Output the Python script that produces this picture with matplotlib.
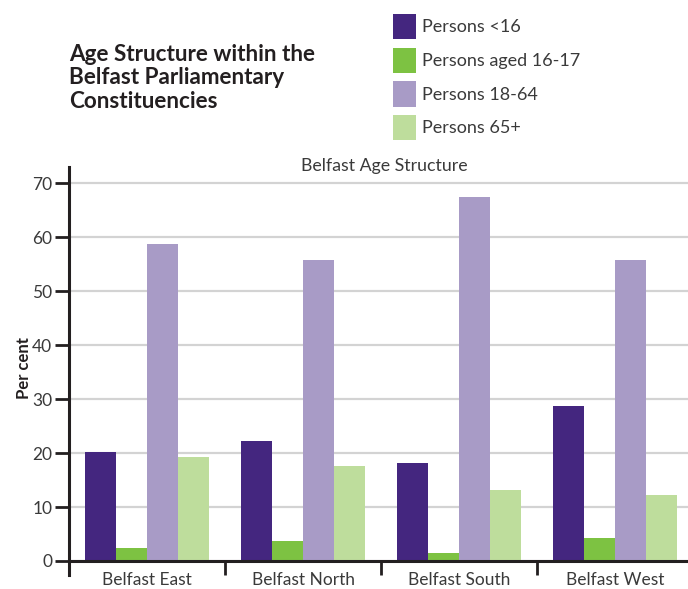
import matplotlib
matplotlib.use("Agg")
import matplotlib.pyplot as plt
import numpy as np

categories = ["Belfast East", "Belfast North", "Belfast South", "Belfast West"]
series_names = ["Persons <16", "Persons aged 16-17", "Persons 18-64", "Persons 65+"]
under16 = [20.2, 22.2, 18.1, 28.7]
aged16_17 = [2.4, 3.7, 1.5, 4.3]
aged18_64 = [58.7, 55.8, 67.4, 55.8]
aged65 = [19.3, 17.6, 13.1, 12.2]
yticks = [0, 10, 20, 30, 40, 50, 60, 70]

colors = ["#44267f", "#7dc242", "#a89bc6", "#bedd9c"]
txt = "#3a3a3a"
plt.rcParams['font.family'] = ['Lato', 'DejaVu Sans']

fig = plt.figure(figsize=(6.88, 5.89), dpi=100)
ax = fig.add_axes([69/688, 14/589, 624/688, 408/589])

x = np.arange(len(categories))
w = 0.2
handles = []
for i, (vals, name) in enumerate(zip([under16, aged16_17, aged18_64, aged65], series_names)):
    b = ax.bar(x + (i - 1.5) * w, vals, width=w, color=colors[i], label=name, zorder=3)
    handles.append(b)

ax.set_xlim(-0.5, 3.5)
ax.set_ylim(-2.6, 73)
ax.set_yticks(yticks)
ax.set_yticklabels([str(t) for t in yticks], fontsize=12.5, color=txt)
ax.yaxis.grid(True, color="#d3d3d3", linewidth=1.6, zorder=0)
ax.set_axisbelow(True)

for s in ["top", "right"]:
    ax.spines[s].set_visible(False)
ax.spines['left'].set_color("#231f20")
ax.spines['left'].set_linewidth(2.2)
ax.spines['bottom'].set_position(('data', 0))
ax.spines['bottom'].set_color("#231f20")
ax.spines['bottom'].set_linewidth(2.2)
ax.spines['bottom'].set_zorder(4)

ax.tick_params(axis='y', direction='out', length=10, width=2, color="#231f20", pad=2)
ax.set_xticks(x)
ax.set_xticklabels(categories, fontsize=12.5, color=txt)
ax.tick_params(axis='x', which='major', length=0, pad=8)
ax.set_xticks([0.5, 1.5, 2.5], minor=True)
ax.tick_params(axis='x', which='minor', direction='out', length=10, width=2, color="#231f20")

ax.set_ylabel("Per cent", fontsize=12, fontweight='bold', color="#231f20")
ax.yaxis.label.set_va('center')
ax.yaxis.set_label_coords(-0.072, 0.507)

fig.text(384/688, 1 - 166/589, "Belfast Age Structure", fontsize=12.8, color=txt,
         ha='center', va='center')

fig.text(69/688, 1 - 78/589, "Age Structure within the\nBelfast Parliamentary\nConstituencies",
         fontsize=16.2, fontweight='bold', color="#231f20", ha='left', va='center', linespacing=1.16)

fig.legend(handles=handles, labels=series_names, loc='upper left',
           bbox_to_anchor=(393/688, 1 - 14/589), frameon=False, fontsize=13,
           handlelength=1.3, handleheight=1.78, labelspacing=0.46, handletextpad=0.3,
           borderaxespad=0, borderpad=0, labelcolor=txt)

fig.savefig("out.png", dpi=100)
